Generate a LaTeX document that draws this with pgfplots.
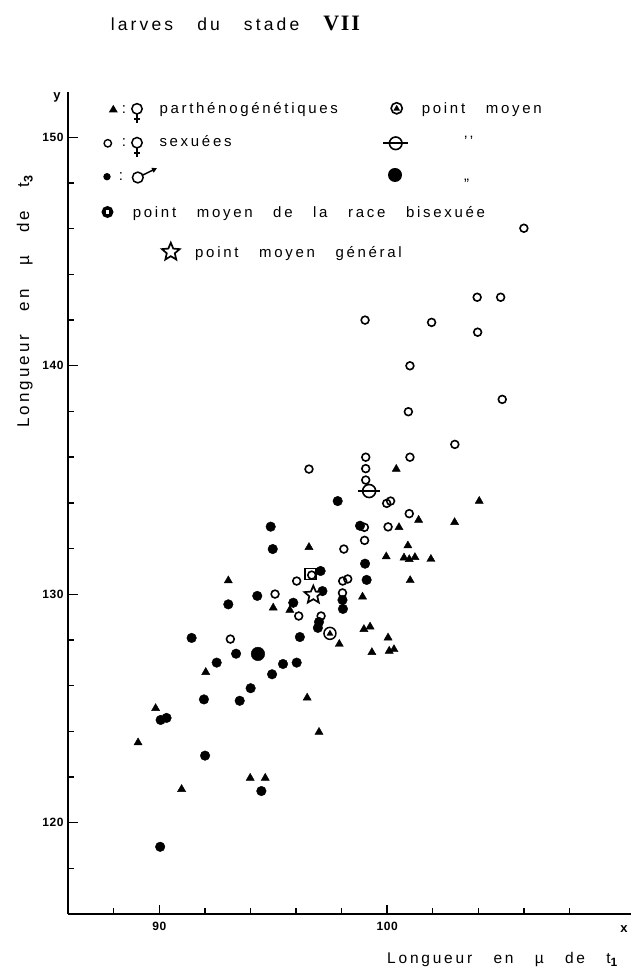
\documentclass[border=0pt]{standalone}
\usepackage{fontspec}
\setmainfont{Liberation Sans}[LetterSpace=18, WordSpace=3]
\newfontfamily\romanbold{Liberation Serif}[LetterSpace=8]
\usepackage{pgfplots}
\pgfplotsset{compat=1.18}
\usetikzlibrary{arrows.meta}

% open circle crossed by a horizontal bar (mean of the sexual females)
\pgfdeclareplotmark{sexmean}{%
  \pgfpathcircle{\pgfpointorigin}{\pgfplotmarksize}%
  \pgfusepathqfillstroke
  \pgfpathmoveto{\pgfqpoint{-1.65\pgfplotmarksize}{0pt}}%
  \pgfpathlineto{\pgfqpoint{1.65\pgfplotmarksize}{0pt}}%
  \pgfusepathqstroke}
% ring with a filled triangle inside (mean of the parthenogenetic females)
\pgfdeclareplotmark{parthmean}{%
  \pgfpathcircle{\pgfpointorigin}{\pgfplotmarksize}%
  \pgfusepathqfillstroke
  \pgfscope
  \pgfsetfillcolor{black}%
  \pgfpathmoveto{\pgfqpoint{0pt}{0.62\pgfplotmarksize}}%
  \pgfpathlineto{\pgfqpoint{-0.56\pgfplotmarksize}{-0.36\pgfplotmarksize}}%
  \pgfpathlineto{\pgfqpoint{0.56\pgfplotmarksize}{-0.36\pgfplotmarksize}}%
  \pgfpathclose
  \pgfusepathqfill
  \endpgfscope}
% outlined five-pointed star (general mean)
\pgfdeclareplotmark{ostar}{%
  \pgfpathmoveto{\pgfqpointpolar{90}{\pgfplotmarksize}}%
  \pgfpathlineto{\pgfqpointpolar{126}{0.45\pgfplotmarksize}}%
  \pgfpathlineto{\pgfqpointpolar{162}{\pgfplotmarksize}}%
  \pgfpathlineto{\pgfqpointpolar{198}{0.45\pgfplotmarksize}}%
  \pgfpathlineto{\pgfqpointpolar{234}{\pgfplotmarksize}}%
  \pgfpathlineto{\pgfqpointpolar{270}{0.45\pgfplotmarksize}}%
  \pgfpathlineto{\pgfqpointpolar{306}{\pgfplotmarksize}}%
  \pgfpathlineto{\pgfqpointpolar{342}{0.45\pgfplotmarksize}}%
  \pgfpathlineto{\pgfqpointpolar{18}{\pgfplotmarksize}}%
  \pgfpathlineto{\pgfqpointpolar{54}{0.45\pgfplotmarksize}}%
  \pgfpathclose
  \pgfusepathqfillstroke}

\newcommand\legfont{\fontsize{15}{18}\selectfont}

\begin{document}
\begin{tikzpicture}[x=1pt,y=1pt]
\useasboundingbox (0,0) rectangle (633,970);

\begin{axis}[
  at={(68.1pt,55.8pt)}, anchor=south west,
  scale only axis, width=562.9pt, height=822.6pt,
  xmin=86, xmax=110.7, ymin=116, ymax=152,
  axis lines=left,
  axis line style={-, line width=1.8pt},
  tick align=inside,
  xtick={90,100},
  minor xtick={88,92,94,96,98,102,104,106,108},
  ytick={120,130,140,150},
  minor ytick={118,122,124,126,128,132,134,136,138,142,144,146,148},
  major tick length=9.5pt, minor tick length=6pt,
  tick style={black, line width=1.4pt},
  tick label style={font=\fontsize{12}{14}\selectfont\bfseries\addfontfeatures{LetterSpace=5}},
  xticklabel style={yshift=-4pt},
  yticklabel style={xshift=-1pt},
  /pgf/number format/assume math mode=true,
  clip=false,
]
% males
\addplot[only marks, mark=*, mark size=4.8pt, black] coordinates {
(97.83,134.08) (98.81,133.00) (94.89,132.96) (94.98,131.98) (99.03,131.34)
(99.10,130.63) (97.08,131.02) (97.16,130.14) (98.04,129.75) (98.06,129.36)
(95.88,129.63) (97.01,128.79) (96.96,128.53) (96.17,128.13) (94.30,129.93)
(93.03,129.56) (91.42,128.09) (93.37,127.40) (92.52,127.01) (95.43,126.95)
(96.03,127.01) (94.95,126.50) (94.01,125.89) (91.96,125.40) (93.53,125.34)
(90.06,124.50) (90.32,124.59) (92.01,122.94) (94.48,121.39) (90.04,118.95)
};
% sexual females
\addplot[only marks, mark=o, mark size=3.9pt, black,
  mark options={line width=1.6pt, fill=white}] coordinates {
(106.00,146.02) (103.95,143.00) (104.98,143.00) (101.95,141.90) (103.97,141.47)
(99.03,142.00) (101.00,140.00) (105.05,138.53) (100.93,137.99) (102.97,136.56)
(99.06,136.00) (99.06,135.50) (99.06,135.00) (101.00,136.00) (96.57,135.48)
(99.98,133.98) (100.15,134.08) (100.97,133.53) (99.00,132.93) (100.04,132.95)
(99.01,132.36) (98.10,131.98) (96.69,130.84) (96.03,130.58) (98.05,130.58)
(98.27,130.67) (95.08,130.01) (98.04,130.06) (96.12,129.05) (97.10,129.05)
(93.12,128.04)
};
% parthenogenetic females
\addplot[only marks, mark=triangle*, mark size=4.7pt, black] coordinates {
(100.40,135.48) (104.04,134.08) (101.38,133.25) (102.96,133.15) (100.52,132.93)
(96.57,132.06) (100.91,132.13) (99.96,131.65) (100.74,131.60) (100.97,131.53)
(101.22,131.62) (101.92,131.54) (101.01,130.61) (93.03,130.60) (95.00,129.41)
(98.92,129.89) (95.73,129.31) (97.90,127.82) (98.98,128.47) (99.25,128.58)
(100.04,128.10) (99.33,127.46) (100.09,127.52) (100.30,127.59) (92.04,126.59)
(96.49,125.47) (89.84,125.01) (97.01,123.97) (89.07,123.51) (93.99,121.96)
(94.65,121.96) (90.98,121.47)
};
% means
\addplot[only marks, mark=parthmean, mark size=6pt, black,
  mark options={line width=1.5pt, fill=white}] coordinates {(97.49,128.29)};
\addplot[only marks, mark=sexmean, mark size=6.5pt, black,
  mark options={line width=1.6pt, fill=white}] coordinates {(99.21,134.52)};
\addplot[only marks, mark=*, mark size=6.8pt, black] coordinates {(94.33,127.39)};
\addplot[only marks, mark=square, mark size=5.6pt, black,
  mark options={line width=1.6pt}] coordinates {(96.64,130.89)};
\addplot[only marks, mark=ostar, mark size=9.3pt, black,
  mark options={line width=1.7pt, fill=white, line join=miter}] coordinates {(96.76,129.97)};
\end{axis}

% title
\node[anchor=base west, inner sep=0pt] at (110.6,939.5)
  {\fontsize{17.5}{21}\selectfont larves du stade {\romanbold\bfseries\fontsize{22}{26}\selectfont VII}};

% axis names
\node[anchor=base, inner sep=0pt] at (57,870) {\fontsize{13}{15}\selectfont\bfseries y};
\node[anchor=base, inner sep=0pt] at (624,37.3) {\fontsize{13}{15}\selectfont\bfseries x};
\node[anchor=base west, inner sep=0pt] at (387,6.7)
  {\fontsize{15.5}{19}\selectfont Longueur en µ de t\raisebox{-3.5pt}{\fontsize{12}{12}\selectfont\bfseries 1}};
\node[anchor=base west, inner sep=0pt, rotate=90] at (29,542)
  {\fontsize{17}{20}\selectfont Longueur en µ de t\raisebox{-3.5pt}{\fontsize{12.5}{12.5}\selectfont\bfseries 3}};

% key, row 1: parthenogenetic females
\fill (113.3,865.2) -- (108.8,857.6) -- (117.8,857.6) -- cycle;
\node[anchor=base, inner sep=0pt] at (124,856.7) {\legfont :};
\begin{scope}[line width=1.5pt]
  \draw (137,861.2) circle (5.2);
  \draw (137,856) -- (137,846.7);
  \draw (134,850.9) -- (140,850.9);
\end{scope}
\node[anchor=base west, inner sep=0pt] at (159.3,856.7) {\legfont parthénogénétiques};
\draw[line width=1.6pt, fill=white] (396.7,861.7) circle (5.6);
\fill (396.7,865.2) -- (393.3,859.3) -- (400.1,859.3) -- cycle;
\node[anchor=base west, inner sep=0pt] at (421.7,856.7) {\legfont point moyen};

% row 2: sexual females
\draw[line width=1.4pt] (107.8,826.7) circle (3.7);
\node[anchor=base, inner sep=0pt] at (124,823.3) {\legfont :};
\begin{scope}[line width=1.5pt]
  \draw (137,827.3) circle (5.2);
  \draw (137,822.1) -- (137,812.8);
  \draw (134,817) -- (140,817);
\end{scope}
\node[anchor=base west, inner sep=0pt] at (159.3,823.3) {\legfont sexuées};
\draw[line width=1.6pt] (395.7,826.7) circle (6.3);
\draw[line width=1.6pt] (383.3,826.7) -- (408.3,826.7);
\node[anchor=base west, inner sep=0pt] at (464,823.3) {\legfont ’’};

% row 3: males
\fill (107,793.3) circle (3.7);
\node[anchor=base, inner sep=0pt] at (121,789.5) {\legfont :};
\draw[line width=1.5pt] (137.8,792.5) circle (5.4);
\draw[line width=1.5pt, -{Triangle[length=5pt,width=5pt]}] (142.65,794.87) -- (157,801.9);
\fill (395,795) circle (7);
\node[anchor=base west, inner sep=0pt] at (464,789.5) {\legfont ,,};

% row 4: mean of the bisexual race
\draw[line width=3pt] (107.5,758) circle (4.4);
\draw[line width=1pt, fill=white] (105.6,755.6) rectangle (109.4,760.4);
\node[anchor=base west, inner sep=0pt] at (132.7,752.7) {\legfont point moyen de la race bisexuée};

% row 5: general mean
\draw[line width=1.7pt, line join=miter]
  (170.8,718) +(90:9.3) -- +(126:4.2) -- +(162:9.3) -- +(198:4.2) -- +(234:9.3)
  -- +(270:4.2) -- +(306:9.3) -- +(342:4.2) -- +(18:9.3) -- +(54:4.2) -- cycle;
\node[anchor=base west, inner sep=0pt] at (195,712.7) {\legfont point moyen général};
\end{tikzpicture}
\end{document}
